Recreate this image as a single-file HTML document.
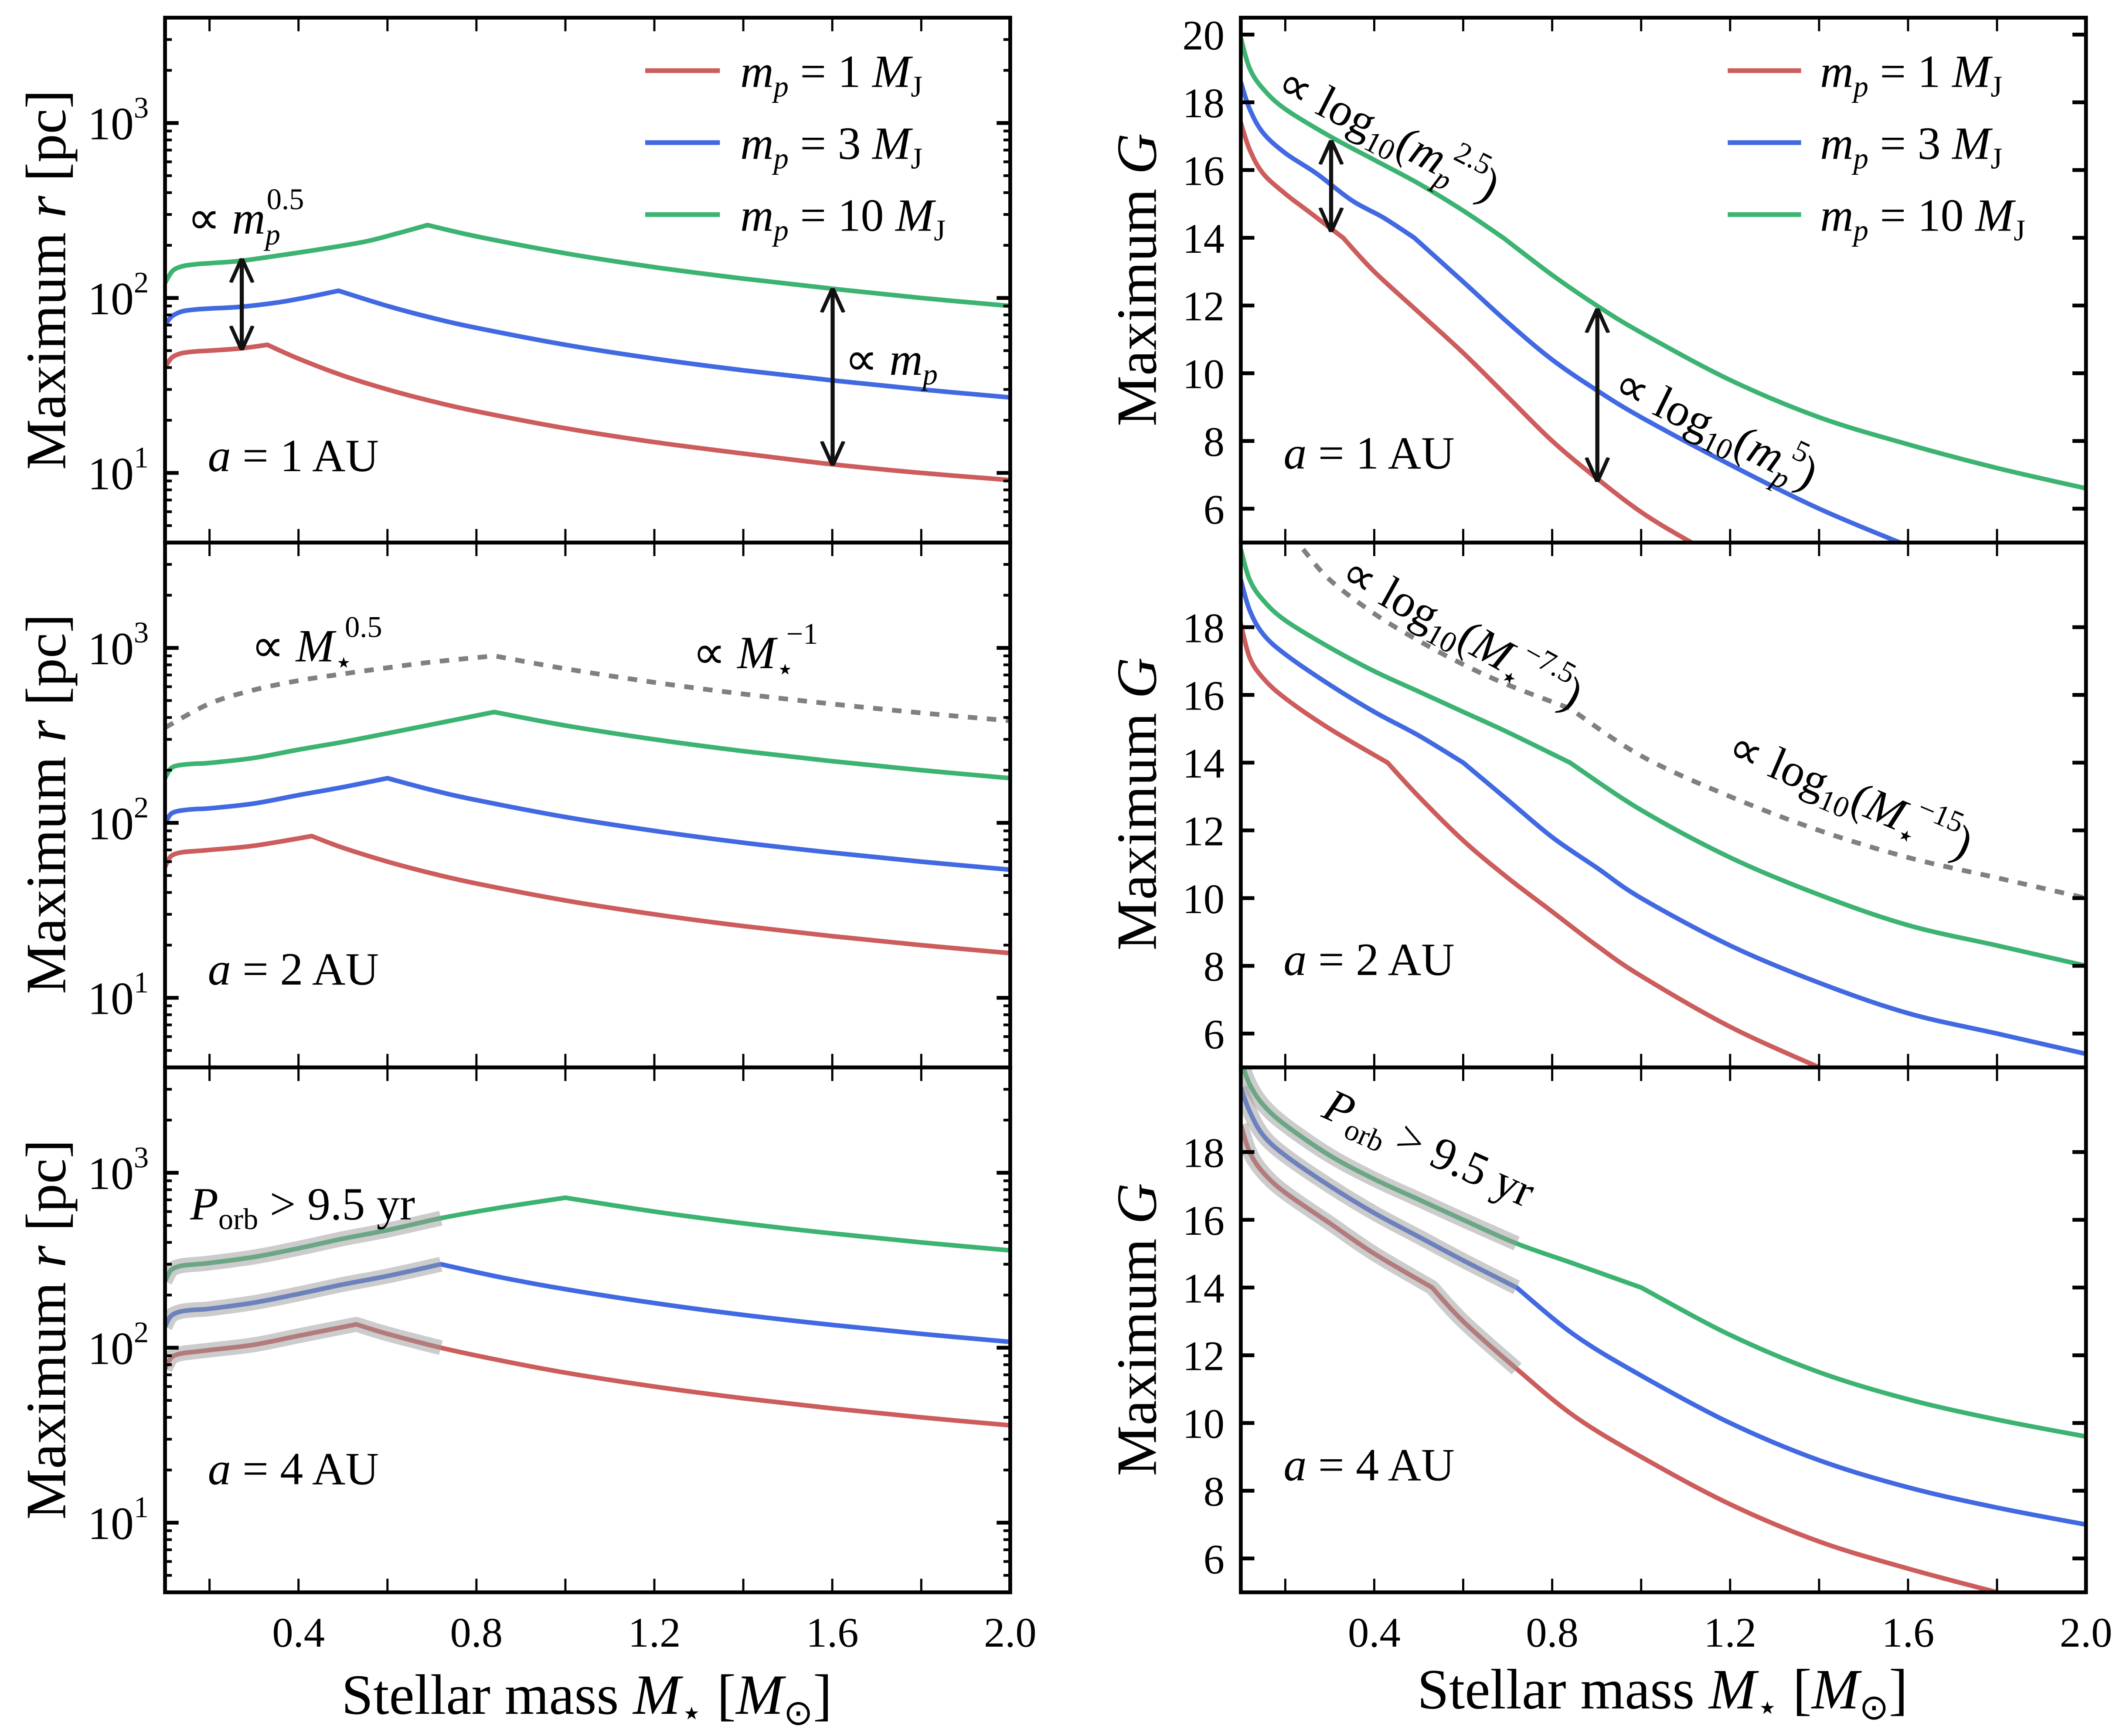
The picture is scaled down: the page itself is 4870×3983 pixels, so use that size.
<!DOCTYPE html>
<html><head><meta charset="utf-8">
<style>
html,body{margin:0;padding:0;background:#fff;}
svg{display:block;}
text{font-family:"Liberation Serif",serif;fill:#000;}
</style></head>
<body>
<svg id="fig" xmlns="http://www.w3.org/2000/svg" width="4870" height="3983" viewBox="0 0 1563 1278.3">
<rect width="1563" height="1278.3" fill="#fff"/>
<defs>
<marker id="ah" viewBox="0 0 10 10" refX="9.5" refY="5" markerWidth="6" markerHeight="8" orient="auto-start-reverse"><path d="M0,0.5 L10,5 L0,9.5" fill="none" stroke="#111" stroke-width="1.5"/></marker>
</defs>
<g id="plots"></g>
<g id="annot">
<g font-size="34">
<line x1="475" y1="52" x2="530" y2="52" stroke="#cd5c5c" stroke-width="3.5"/>
<line x1="475" y1="105" x2="530" y2="105" stroke="#4169e1" stroke-width="3.5"/>
<line x1="475" y1="158" x2="530" y2="158" stroke="#3cb371" stroke-width="3.5"/>
<text x="545" y="64"><tspan font-style="italic">m</tspan><tspan font-style="italic" font-size="22" dy="7">p</tspan><tspan dy="-7"> = 1 </tspan><tspan font-style="italic">M</tspan><tspan font-size="22" dy="7">J</tspan></text>
<text x="545" y="117"><tspan font-style="italic">m</tspan><tspan font-style="italic" font-size="22" dy="7">p</tspan><tspan dy="-7"> = 3 </tspan><tspan font-style="italic">M</tspan><tspan font-size="22" dy="7">J</tspan></text>
<text x="545" y="170"><tspan font-style="italic">m</tspan><tspan font-style="italic" font-size="22" dy="7">p</tspan><tspan dy="-7"> = 10 </tspan><tspan font-style="italic">M</tspan><tspan font-size="22" dy="7">J</tspan></text>
</g>
<g font-size="34">
<line x1="1272" y1="52" x2="1326" y2="52" stroke="#cd5c5c" stroke-width="3.5"/>
<line x1="1272" y1="105" x2="1326" y2="105" stroke="#4169e1" stroke-width="3.5"/>
<line x1="1272" y1="158" x2="1326" y2="158" stroke="#3cb371" stroke-width="3.5"/>
<text x="1340" y="64"><tspan font-style="italic">m</tspan><tspan font-style="italic" font-size="22" dy="7">p</tspan><tspan dy="-7"> = 1 </tspan><tspan font-style="italic">M</tspan><tspan font-size="22" dy="7">J</tspan></text>
<text x="1340" y="117"><tspan font-style="italic">m</tspan><tspan font-style="italic" font-size="22" dy="7">p</tspan><tspan dy="-7"> = 3 </tspan><tspan font-style="italic">M</tspan><tspan font-size="22" dy="7">J</tspan></text>
<text x="1340" y="170"><tspan font-style="italic">m</tspan><tspan font-style="italic" font-size="22" dy="7">p</tspan><tspan dy="-7"> = 10 </tspan><tspan font-style="italic">M</tspan><tspan font-size="22" dy="7">J</tspan></text>
</g>
<line x1="178" y1="191" x2="178" y2="257" stroke="#111" stroke-width="3" marker-start="url(#ah)" marker-end="url(#ah)"/>
<line x1="613" y1="213" x2="613" y2="342" stroke="#111" stroke-width="3" marker-start="url(#ah)" marker-end="url(#ah)"/>
<line x1="980" y1="104" x2="980" y2="170" stroke="#111" stroke-width="3" marker-start="url(#ah)" marker-end="url(#ah)"/>
<line x1="1176" y1="228" x2="1176" y2="354" stroke="#111" stroke-width="3" marker-start="url(#ah)" marker-end="url(#ah)"/>
<g font-size="34">
<text x="138" y="172">∝ <tspan font-style="italic">m</tspan><tspan font-style="italic" font-size="22" dy="8">p</tspan><tspan font-size="22" dx="-10" dy="-26">0.5</tspan></text>
<text x="622" y="276">∝ <tspan font-style="italic">m</tspan><tspan font-style="italic" font-size="22" dy="7">p</tspan></text>
<text x="153" y="347"><tspan font-style="italic">a</tspan> = 1 AU</text>
<text x="153" y="725"><tspan font-style="italic">a</tspan> = 2 AU</text>
<text x="153" y="1093"><tspan font-style="italic">a</tspan> = 4 AU</text>
<text x="945" y="345"><tspan font-style="italic">a</tspan> = 1 AU</text>
<text x="945" y="718"><tspan font-style="italic">a</tspan> = 2 AU</text>
<text x="945" y="1090"><tspan font-style="italic">a</tspan> = 4 AU</text>
<text x="185" y="487">∝ <tspan font-style="italic">M</tspan><tspan font-size="22" dy="8">⋆</tspan><tspan font-size="22" dx="-6" dy="-26">0.5</tspan></text>
<text x="510" y="492">∝ <tspan font-style="italic">M</tspan><tspan font-size="22" dy="8">⋆</tspan><tspan font-size="22" dx="-6" dy="-26">−1</tspan></text>
<text x="140" y="898"><tspan font-style="italic">P</tspan><tspan font-size="22" dy="7">orb</tspan><tspan dy="-7"> &gt; 9.5 yr</tspan></text>
<text transform="translate(938,68) rotate(27)">∝ log<tspan font-size="22" dy="7">10</tspan><tspan dy="-7">(</tspan><tspan font-style="italic">m</tspan><tspan font-style="italic" font-size="22" dy="8">p</tspan><tspan font-size="22" dx="-6" dy="-24">2.5</tspan><tspan dy="16">)</tspan></text>
<text transform="translate(1186,290) rotate(26)">∝ log<tspan font-size="22" dy="7">10</tspan><tspan dy="-7">(</tspan><tspan font-style="italic">m</tspan><tspan font-style="italic" font-size="22" dy="8">p</tspan><tspan font-size="22" dx="-6" dy="-24">5</tspan><tspan dy="16">)</tspan></text>
<text transform="translate(985,428) rotate(29)">∝ log<tspan font-size="22" dy="7">10</tspan><tspan dy="-7">(</tspan><tspan font-style="italic">M</tspan><tspan font-size="22" dy="8">⋆</tspan><tspan font-size="22" dx="-6" dy="-24">−7.5</tspan><tspan dy="16">)</tspan></text>
<text transform="translate(1270,558) rotate(23)">∝ log<tspan font-size="22" dy="7">10</tspan><tspan dy="-7">(</tspan><tspan font-style="italic">M</tspan><tspan font-size="22" dy="8">⋆</tspan><tspan font-size="22" dx="-6" dy="-24">−15</tspan><tspan dy="16">)</tspan></text>
<text transform="translate(972,822) rotate(24)"><tspan font-style="italic">P</tspan><tspan font-size="22" dy="7">orb</tspan><tspan dy="-7"> &gt; 9.5 yr</tspan></text>
</g>
<g font-size="42">
<text transform="translate(48,206) rotate(-90)" text-anchor="middle">Maximum <tspan font-style="italic">r</tspan> [pc]</text>
<text transform="translate(48,592) rotate(-90)" text-anchor="middle">Maximum <tspan font-style="italic">r</tspan> [pc]</text>
<text transform="translate(48,979) rotate(-90)" text-anchor="middle">Maximum <tspan font-style="italic">r</tspan> [pc]</text>
<text transform="translate(851,206) rotate(-90)" text-anchor="middle">Maximum <tspan font-style="italic">G</tspan></text>
<text transform="translate(851,592) rotate(-90)" text-anchor="middle">Maximum <tspan font-style="italic">G</tspan></text>
<text transform="translate(851,979) rotate(-90)" text-anchor="middle">Maximum <tspan font-style="italic">G</tspan></text>
<text x="432" y="1262" text-anchor="middle">Stellar mass <tspan font-style="italic">M</tspan><tspan font-size="26" dy="8">⋆</tspan><tspan dy="-8"> [</tspan><tspan font-style="italic">M</tspan><tspan font-size="26" dy="8">⊙</tspan><tspan dy="-8">]</tspan></text>
<text x="1224" y="1258" text-anchor="middle">Stellar mass <tspan font-style="italic">M</tspan><tspan font-size="26" dy="8">⋆</tspan><tspan dy="-8"> [</tspan><tspan font-style="italic">M</tspan><tspan font-size="26" dy="8">⊙</tspan><tspan dy="-8">]</tspan></text>
</g>
</g>
</svg>
<script>
// ---------- data ----------
const xTickLabels = ["0.4","0.8","1.2","1.6","2.0"];
const xTickValues = [0.4,0.8,1.2,1.6,2.0];
const logTickLabels = ["1","2","3"];
const gTickValuesTop = [6,8,10,12,14,16,18,20];
const gTickValuesLow = [6,8,10,12,14,16,18];

const r1_red_x = [0.10,0.11,0.12,0.14,0.17,0.20,0.27,0.33,0.40,0.50,0.60,0.70,0.80,1.00,1.20,1.40,1.60,1.80,2.00];
const r1_red_y = [40,44,46.5,48.5,49.5,50,51.5,54,45,36,30,25.7,22.5,18,15,12.9,11.2,10,9.1];
const r1_blue_x = [0.10,0.11,0.12,0.14,0.17,0.20,0.27,0.35,0.42,0.49,0.60,0.70,0.80,1.00,1.20,1.40,1.60,1.80,2.00];
const r1_blue_y = [70,76,80,84,86,87,89,94,101,110,90,77,67.5,54,45,38.6,33.8,30,27];
const r1_green_x = [0.10,0.11,0.12,0.14,0.17,0.20,0.27,0.35,0.45,0.55,0.62,0.69,0.80,1.00,1.20,1.40,1.60,1.80,2.00];
const r1_green_y = [122,135,145,152,156,158,163,174,190,210,233,261,225,180,150,129,113,100,90];
const r2_red_x = [0.10,0.11,0.12,0.14,0.17,0.20,0.30,0.43,0.50,0.60,0.70,0.80,1.00,1.20,1.40,1.60,1.80,2.00];
const r2_red_y = [56,63,66,68,69,70,74,84,72,60,51.4,45,36,30,25.7,22.5,20,18];
const r2_blue_x = [0.10,0.11,0.12,0.14,0.17,0.20,0.30,0.40,0.50,0.60,0.70,0.80,1.00,1.20,1.40,1.60,1.80,2.00];
const r2_blue_y = [98,110,115,118,120,121,129,144,160,180,154,135,108,90,77,67.5,60,54];
const r2_green_x = [0.10,0.11,0.12,0.14,0.17,0.20,0.30,0.40,0.50,0.60,0.70,0.84,1.00,1.20,1.40,1.60,1.80,2.00];
const r2_green_y = [180,200,210,215,218,220,235,262,290,325,365,430,360,300,257,225,200,180];
const r2_dash_x = [0.10,0.20,0.30,0.40,0.50,0.60,0.70,0.84,1.00,1.20,1.40,1.60,1.80,2.00];
const r2_dash_y = [350,480,575,650,710,770,830,900,760,635,545,478,425,383];
const r4_red_x = [0.10,0.11,0.12,0.14,0.17,0.20,0.30,0.40,0.53,0.60,0.72,0.85,1.00,1.20,1.40,1.60,1.80,2.00];
const r4_red_y = [76,85,90,93,95,97,104,117,136,120,100,85,72,60,51.4,45,40,36];
const r4_blue_x = [0.10,0.11,0.12,0.14,0.17,0.20,0.30,0.40,0.50,0.60,0.72,0.85,1.00,1.20,1.40,1.60,1.80,2.00];
const r4_blue_y = [132,148,156,162,165,167,181,203,230,257,300,254,216,180,154,135,120,108];
const r4_green_x = [0.10,0.11,0.12,0.14,0.17,0.20,0.30,0.40,0.50,0.60,0.72,0.85,1.00,1.20,1.40,1.60,1.80,2.00];
const r4_green_y = [240,270,285,295,300,305,330,370,420,470,550,630,720,600,514,450,400,360];
const g1_red_x = [0.10,0.12,0.15,0.20,0.25,0.33,0.40,0.50,0.60,0.70,0.80,0.90,1.00,1.10,1.20];
const g1_red_y = [17.4,16.6,15.9,15.3,14.8,14.0,13.0,11.8,10.6,9.3,8.0,6.9,5.9,5.1,4.4];
const g1_blue_x = [0.10,0.12,0.15,0.20,0.27,0.35,0.42,0.49,0.60,0.70,0.80,0.90,1.00,1.20,1.40,1.60];
const g1_blue_y = [18.6,17.8,17.1,16.5,15.9,15.1,14.6,14.0,12.7,11.5,10.4,9.5,8.7,7.3,6.0,4.9];
const g1_green_x = [0.10,0.12,0.15,0.20,0.30,0.40,0.50,0.60,0.69,0.80,0.90,1.00,1.20,1.40,1.60,1.80,2.00];
const g1_green_y = [19.9,19.0,18.4,17.8,17.0,16.3,15.6,14.8,14.0,12.9,12.0,11.2,9.8,8.7,7.9,7.2,6.6];
const g2_red_x = [0.10,0.12,0.15,0.20,0.30,0.43,0.50,0.60,0.70,0.80,0.90,1.00,1.20,1.40];
const g2_red_y = [18.1,17.1,16.5,15.9,15.0,14.0,13.0,11.7,10.6,9.6,8.6,7.7,6.2,5.0];
const g2_blue_x = [0.10,0.12,0.15,0.20,0.30,0.40,0.50,0.60,0.70,0.80,0.90,1.00,1.20,1.40,1.60,1.80,2.00];
const g2_blue_y = [19.4,18.5,17.8,17.2,16.3,15.5,14.8,14.0,12.9,11.8,10.9,10.0,8.6,7.5,6.6,6.0,5.4];
const g2_green_x = [0.10,0.12,0.15,0.20,0.30,0.40,0.50,0.60,0.70,0.84,1.00,1.20,1.40,1.60,1.80,2.00];
const g2_green_y = [20.3,19.4,18.8,18.2,17.4,16.7,16.1,15.5,14.9,14.0,12.6,11.2,10.1,9.2,8.6,8.0];
const g2_dash_x = [0.24,0.30,0.40,0.50,0.60,0.70,0.84,1.00,1.20,1.40,1.60,1.80,2.00];
const g2_dash_y = [20.3,19.4,18.4,17.6,16.9,16.3,15.6,14.2,13.0,12.0,11.2,10.6,10.0];
const g4_red_x = [0.10,0.12,0.15,0.20,0.30,0.40,0.53,0.60,0.72,0.85,1.00,1.20,1.40,1.60,1.80];
const g4_red_y = [18.8,18.0,17.4,16.8,15.9,15.0,14.0,13.0,11.6,10.2,9.0,7.6,6.5,5.7,5.0];
const g4_blue_x = [0.10,0.12,0.15,0.20,0.30,0.40,0.50,0.60,0.72,0.85,1.00,1.20,1.40,1.60,1.80,2.00];
const g4_blue_y = [19.9,19.2,18.5,17.9,17.0,16.2,15.5,14.8,14.0,12.6,11.4,10.0,8.9,8.1,7.5,7.0];
const g4_green_x = [0.10,0.12,0.15,0.20,0.30,0.40,0.50,0.60,0.72,0.85,1.00,1.20,1.40,1.60,1.80,2.00];
const g4_green_y = [20.7,20.0,19.4,18.8,17.9,17.2,16.6,16.0,15.3,14.7,14.0,12.6,11.5,10.7,10.1,9.6];
const porbLimit = 0.72;
const kinkG = 14.0;
const dashKinkM = 0.84;

// ---------- drawing ----------
const NS = "http://www.w3.org/2000/svg";
const root = document.getElementById('plots');
const COL = {red:"#cd5c5c", blue:"#4169e1", green:"#3cb371"};
const PW = 622.25, PH = 386.5;
const tops = [13, 399.5, 786];
function mk(tag, attrs, parent){const e=document.createElementNS(NS,tag);for(const k in attrs)e.setAttribute(k,attrs[k]);(parent||root).appendChild(e);return e;}
function xScale(x0){return m => x0 + (m-0.1)/1.9*PW;}
function logScale(t){return v => t + (Math.log10(4000) - Math.log10(v))/3*PH;}
function linScale(t){return g => t + (20.5-g)/15.5*PH;}

// smooth path through pixel points, sharp at kink index
function smoothSeg(P){
  let d='';
  for(let i=0;i<P.length-1;i++){
    const p0=P[Math.max(i-1,0)], p1=P[i], p2=P[i+1], p3=P[Math.min(i+2,P.length-1)];
    const c1=[p1[0]+(p2[0]-p0[0])/6, p1[1]+(p2[1]-p0[1])/6];
    const c2=[p2[0]-(p3[0]-p1[0])/6, p2[1]-(p3[1]-p1[1])/6];
    d+=' C'+c1[0].toFixed(2)+','+c1[1].toFixed(2)+' '+c2[0].toFixed(2)+','+c2[1].toFixed(2)+' '+p2[0].toFixed(2)+','+p2[1].toFixed(2);
  }
  return d;
}
function pathD(P,k){
  if(P.length<2) return '';
  let d='M'+P[0][0].toFixed(2)+','+P[0][1].toFixed(2);
  if(k>0 && k<P.length-1){ d+=smoothSeg(P.slice(0,k+1)); d+=smoothSeg(P.slice(k)); }
  else d+=smoothSeg(P);
  return d;
}

const panels = [
 {x0:121.5, t:tops[0], log:true, name:'r-a1', s:[['red',r1_red_x,r1_red_y],['blue',r1_blue_x,r1_blue_y],['green',r1_green_x,r1_green_y]]},
 {x0:121.5, t:tops[1], log:true, name:'r-a2', s:[['red',r2_red_x,r2_red_y],['blue',r2_blue_x,r2_blue_y],['green',r2_green_x,r2_green_y]], dash:[r2_dash_x,r2_dash_y]},
 {x0:121.5, t:tops[2], log:true, name:'r-a4', s:[['red',r4_red_x,r4_red_y],['blue',r4_blue_x,r4_blue_y],['green',r4_green_x,r4_green_y]], porb:true, xlab:true},
 {x0:913.5, t:tops[0], log:false, name:'g-a1', s:[['red',g1_red_x,g1_red_y],['blue',g1_blue_x,g1_blue_y],['green',g1_green_x,g1_green_y]], gt:gTickValuesTop},
 {x0:913.5, t:tops[1], log:false, name:'g-a2', s:[['red',g2_red_x,g2_red_y],['blue',g2_blue_x,g2_blue_y],['green',g2_green_x,g2_green_y]], dash:[g2_dash_x,g2_dash_y], gt:gTickValuesLow},
 {x0:913.5, t:tops[2], log:false, name:'g-a4', s:[['red',g4_red_x,g4_red_y],['blue',g4_blue_x,g4_blue_y],['green',g4_green_x,g4_green_y]], porb:true, xlab:true, gt:gTickValuesLow},
];

panels.forEach((p,i)=>{
  const X = xScale(p.x0), Y = p.log ? logScale(p.t) : linScale(p.t);
  const kinkOf = (xs,ys)=> p.log ? ys.indexOf(Math.max(...ys)) : ys.findIndex(v=>v<=kinkG+1e-9);
  const g = mk('g',{});
  
  
  const cid = 'clip'+i;
  const cp = mk('clipPath',{id:cid}, g);
  mk('rect',{x:p.x0,y:p.t,width:PW,height:PH}, cp);
  const pg = mk('g',{'clip-path':'url(#'+cid+')'}, g);
  const pix = (xs,ys,lim)=>xs.map((x,k)=>[x,ys[k]]).filter(d=>lim===undefined||d[0]<=lim+1e-9).map(d=>[X(d[0]),Y(d[1])]);
  if(p.dash){
    const xs=p.dash[0], ys=p.dash[1];
    const k = p.log ? ys.indexOf(Math.max(...ys)) : xs.indexOf(dashKinkM);
    const d = mk('path',{d:pathD(pix(xs,ys),k),fill:'none',stroke:'#808080','stroke-width':3.5,'stroke-dasharray':'7,7'}, pg);
    
    
  }
  p.s.forEach(s=>{
    const k = kinkOf(s[1],s[2]);
    const l = mk('path',{d:pathD(pix(s[1],s[2]),k),fill:'none',stroke:COL[s[0]],'stroke-width':3.4,'stroke-linejoin':'round'}, pg);
    
    
  });
  if(p.porb){
    p.s.forEach(s=>{
      const k = kinkOf(s[1],s[2]);
      const P = pix(s[1],s[2],porbLimit);
      const b = mk('path',{d:pathD(P, k<P.length-1?k:-1),fill:'none',stroke:'#9a9a9a','stroke-opacity':0.5,'stroke-width':11,'stroke-linejoin':'round'}, pg);
      
      
    });
  }
  const tk = mk('g',{stroke:'#000','stroke-width':1.6}, g);
  for(let m=0.2;m<2.0-1e-6;m+=0.2){
    const x=X(m);
    mk('line',{x1:x,x2:x,y1:p.t+PH,y2:p.t+PH-10},tk);
    mk('line',{x1:x,x2:x,y1:p.t,y2:p.t+10},tk);
  }
  if(p.log){
    for(let e=0;e<=3;e++) for(let k=1;k<10;k++){
      const v=k*Math.pow(10,e); if(v<4||v>4000) continue;
      const y=Y(v), L=k===1?10:5, w=k===1?2.8:2.0;
      mk('line',{x1:p.x0,x2:p.x0+L,y1:y,y2:y,'stroke-width':w},tk);
      mk('line',{x1:p.x0+PW,x2:p.x0+PW-L,y1:y,y2:y,'stroke-width':w},tk);
    }
    logTickLabels.forEach(lb=>{
      const y=Y(Math.pow(10,+lb));
      const t=mk('text',{x:p.x0-12,y:y+12,'text-anchor':'end','font-size':34});
      
      
      t.innerHTML='10<tspan font-size="22" dy="-16">'+lb+'</tspan>';
    });
  } else {
    p.gt.forEach(v=>{
      const y=Y(v);
      mk('line',{x1:p.x0,x2:p.x0+10,y1:y,y2:y,'stroke-width':2.8},tk);
      mk('line',{x1:p.x0+PW,x2:p.x0+PW-10,y1:y,y2:y,'stroke-width':2.8},tk);
      const t=mk('text',{x:p.x0-12,y:y+11,'text-anchor':'end','font-size':31});
      
      
      t.textContent=v;
    });
  }
  if(p.xlab){
    xTickValues.forEach((v,k)=>{
      const t=mk('text',{x:X(v),y:p.t+PH+40,'text-anchor':'middle','font-size':31});
      
      
      t.textContent=xTickLabels[k];
    });
  }
  const fr = mk('rect',{x:p.x0,y:p.t,width:PW,height:PH,fill:'none',stroke:'#000','stroke-width':2.8}, g);
  
  
});
</script>
</body></html>
